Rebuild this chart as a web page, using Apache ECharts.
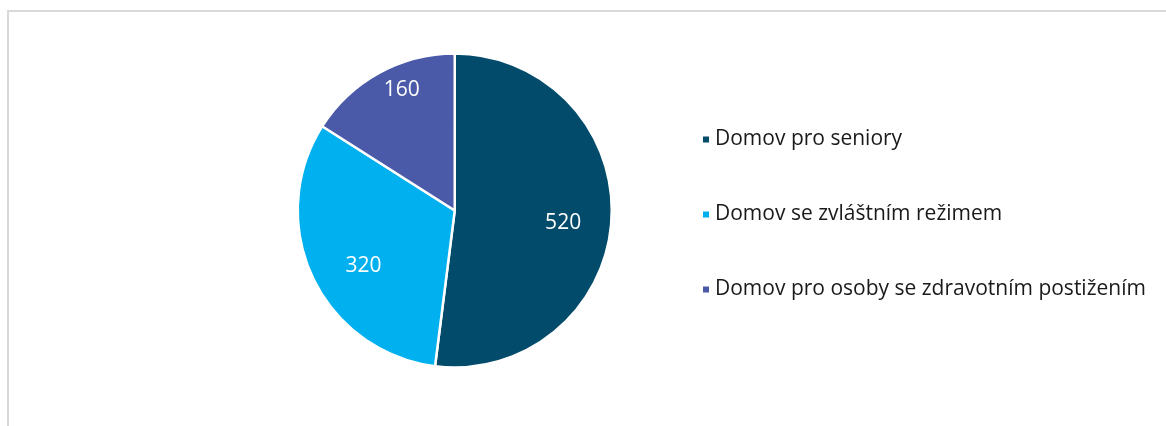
<!DOCTYPE html>
<html>
<head>
<meta charset="utf-8">
<script src="https://cdn.jsdelivr.net/npm/echarts@6/dist/echarts.min.js"></script>
<style>
  html, body { margin: 0; padding: 0; background: #fff; }
  #frame {
    position: absolute; left: 7px; top: 10px; width: 1170px; height: 430px;
    border-top: 2px solid #d9d9d9; border-left: 2px solid #d9d9d9;
  }
  #pie { position: absolute; left: 0; top: 0; width: 1166px; height: 426px; }
</style>
</head>
<body>
<div id="frame"></div>
<div id="pie"></div>
<script>
const categories = ['Domov pro seniory', 'Domov se zvláštním režimem', 'Domov pro osoby se zdravotním postižením'];
const values = [520, 320, 160];
const colors = ['#024b6a', '#00b0ef', '#4a5aa9'];

// umisteni popisku jako v Excelu: podil polomeru a posun uhlu (stupne)
const labelDist = [0.695, 0.68, 0.837];
const labelTurn = [3, -6, 5];
const R = 157;

const myChart = echarts.init(document.querySelector('#pie'));
const cx = () => myChart.getWidth() * 0.39;
const cy = () => myChart.getHeight() * 0.494;

const option = {
  animation: false,
  color: colors,
  legend: {
    orient: 'vertical',
    left: 696,
    top: 124,
    icon: 'rect',
    itemWidth: 8,
    itemHeight: 8,
    itemGap: 54,
    itemTextGap: 10,
    textStyle: { fontFamily: 'Open Sans', fontSize: 21, color: '#1a1a1a', lineHeight: 20 },
    data: categories
  },
  series: [
    {
      type: 'pie',
      center: ['39%', '49.4%'],
      radius: R,
      startAngle: 90,
      clockwise: true,
      avoidLabelOverlap: false,
      itemStyle: { borderColor: '#fff', borderWidth: 2.5 },
      label: {
        show: true,
        position: 'inside',
        formatter: '{c}',
        color: '#fff',
        fontFamily: 'Open Sans',
        fontSize: 21
      },
      labelLine: { show: false },
      labelLayout: function (p) {
        const r = p.labelRect;
        const dx = r.x + r.width / 2 - cx();
        const dy = r.y + r.height / 2 - cy();
        const a = Math.atan2(dx, -dy) + labelTurn[p.dataIndex] * Math.PI / 180;
        const d = labelDist[p.dataIndex] * R;
        return { x: cx() + Math.sin(a) * d, y: cy() - Math.cos(a) * d, align: 'center', verticalAlign: 'middle' };
      },
      data: categories.map((name, i) => ({ name: name, value: values[i] }))
    }
  ]
};
myChart.setOption(option);
</script>
</body>
</html>
